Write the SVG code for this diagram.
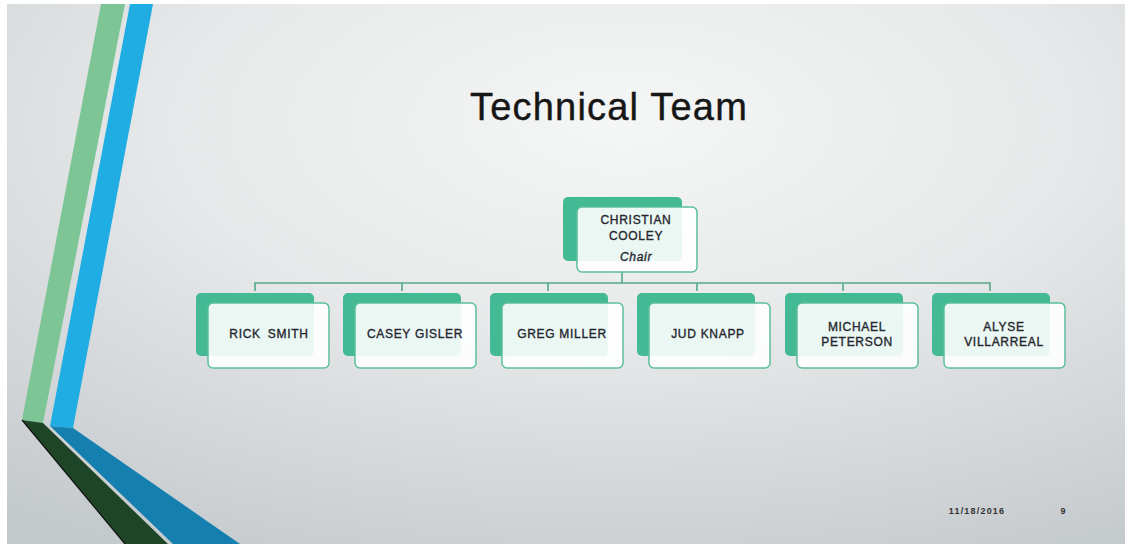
<svg xmlns="http://www.w3.org/2000/svg" width="1125" height="544" viewBox="0 0 1125 544">
<defs>
<radialGradient id="bg" cx="0.55" cy="0.22" r="0.9" gradientUnits="objectBoundingBox">
<stop offset="0" stop-color="#f5f6f6"/>
<stop offset="0.45" stop-color="#e6e8e9"/>
<stop offset="1" stop-color="#c4c9cc"/>
</radialGradient>
<style>
.back{fill:#43b994}
.front{fill:#ffffff;fill-opacity:0.89;stroke:#5cbf9c;stroke-width:1.5}
.lbl{font-family:"Liberation Sans",Arial,sans-serif;font-size:12px;letter-spacing:0.7px;fill:#26262f;stroke:#26262f;stroke-width:0.35px;text-anchor:middle}
.conn{fill:none;stroke:#55a98a;stroke-width:1.6}
</style>
</defs>
<rect x="0" y="0" width="1125" height="544" fill="#ffffff"/>
<rect x="7" y="4" width="1118" height="540" fill="url(#bg)"/>
<g id="decor">
<polygon points="101,4 125,4 43,423 22,420" fill="#7dc594"/>
<polygon points="130,4 153,4 73,428 50,426" fill="#1fade3"/>
<polygon points="22,420 43,423 168,544 125,544" fill="#1f4527"/>
<polyline points="22,420 125,544" fill="none" stroke="#111" stroke-width="1.2"/>
<polygon points="50,426 73,428 240,544 173,544" fill="#1580b0"/>
</g>
<text id="title" x="609" y="120" font-family="'Liberation Sans',Arial,sans-serif" font-size="38" letter-spacing="1.2" fill="#161616" stroke="#161616" stroke-width="0.4" text-anchor="middle">Technical Team</text>
<g id="connectors">
<path class="conn" d="M622,272 V283 M255,291 V283 H990 V291 M402,283 V291 M548,283 V291 M697,283 V291 M843,283 V291"/>
</g>
<g id="node-christian">
<rect class="back" x="563" y="197" width="119" height="64" rx="5"/>
<rect class="front" x="577" y="207" width="120" height="65" rx="5"/>
<text class="lbl" x="636" y="224">CHRISTIAN</text>
<text class="lbl" x="636" y="240">COOLEY</text>
<text class="lbl" x="636" y="261" font-style="italic" letter-spacing="0.4">Chair</text>
</g>
<g id="node-rick">
<rect class="back" x="196" y="293" width="118" height="63" rx="5"/>
<rect class="front" x="208" y="303" width="121" height="65" rx="5"/>
<text class="lbl" x="269" y="338" word-spacing="3">RICK SMITH</text>
</g>
<g id="node-casey">
<rect class="back" x="343" y="293" width="118" height="63" rx="5"/>
<rect class="front" x="355" y="303" width="121" height="65" rx="5"/>
<text class="lbl" x="415" y="338">CASEY GISLER</text>
</g>
<g id="node-greg">
<rect class="back" x="490" y="293" width="118" height="63" rx="5"/>
<rect class="front" x="502" y="303" width="121" height="65" rx="5"/>
<text class="lbl" x="562" y="338">GREG MILLER</text>
</g>
<g id="node-jud">
<rect class="back" x="637" y="293" width="118" height="63" rx="5"/>
<rect class="front" x="649" y="303" width="121" height="65" rx="5"/>
<text class="lbl" x="708" y="338">JUD KNAPP</text>
</g>
<g id="node-michael">
<rect class="back" x="785" y="293" width="118" height="63" rx="5"/>
<rect class="front" x="797" y="303" width="121" height="65" rx="5"/>
<text class="lbl" x="857" y="331">MICHAEL</text>
<text class="lbl" x="857" y="346">PETERSON</text>
</g>
<g id="node-alyse">
<rect class="back" x="932" y="293" width="118" height="63" rx="5"/>
<rect class="front" x="944" y="303" width="121" height="65" rx="5"/>
<text class="lbl" x="1004" y="331">ALYSE</text>
<text class="lbl" x="1004" y="346">VILLARREAL</text>
</g>
<text id="date" x="977" y="514" font-family="'Liberation Sans',Arial,sans-serif" font-size="9" font-weight="bold" letter-spacing="1.2" fill="#333" text-anchor="middle">11/18/2016</text>
<text id="page" x="1063" y="514" font-family="'Liberation Sans',Arial,sans-serif" font-size="9" font-weight="bold" fill="#333" text-anchor="middle">9</text>
</svg>
